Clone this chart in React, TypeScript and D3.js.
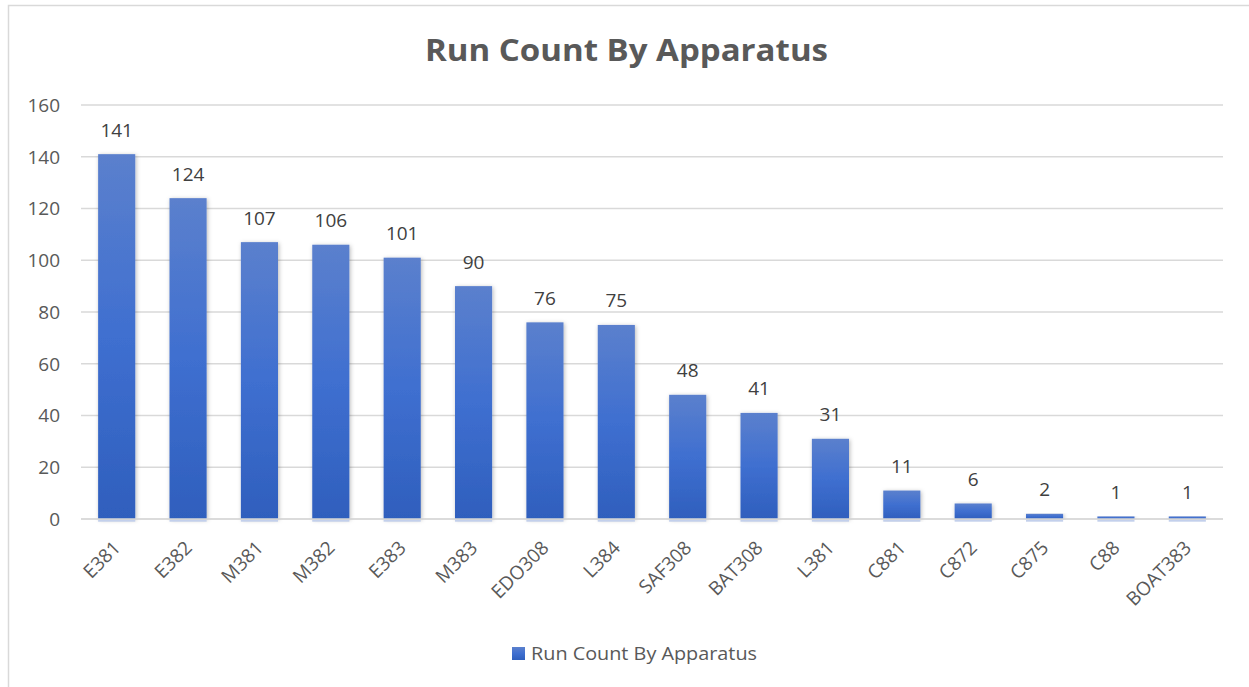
import React from "react";
import * as d3 from "d3";

const categories = ["E381", "E382", "M381", "M382", "E383", "M383", "EDO308", "L384", "SAF308", "BAT308", "L381", "C881", "C872", "C875", "C88", "BOAT383"];
const runCounts = [141, 124, 107, 106, 101, 90, 76, 75, 48, 41, 31, 11, 6, 2, 1, 1];
const yTicks = [0, 20, 40, 60, 80, 100, 120, 140, 160];
const chartTitle = "Run Count By Apparatus";
const seriesName = "Run Count By Apparatus";

const W = 1249;
const H = 687;
const FONT = "'Open Sans', 'Noto Sans', sans-serif";
const TEXT = "#595959";
const LABEL = "#404040";

export default function App() {
  const x = d3.scaleBand<string>().domain(categories).range([81, 1223]).paddingInner(0.48).paddingOuter(0.24);
  const y = d3.scaleLinear().domain([0, 160]).range([519, 105]);

  return (
    <svg width={W} height={H} style={{ position: "absolute", left: 0, top: 0, background: "#fff" }}>
      <defs>
        <linearGradient id="barGrad" x1="0" y1="0" x2="0" y2="1">
          <stop offset="0%" stopColor="#5b80cd" />
          <stop offset="50%" stopColor="#3f6fd0" />
          <stop offset="100%" stopColor="#2f5fbd" />
        </linearGradient>
        <filter id="barShadow" x="-30%" y="-10%" width="160%" height="120%">
          <feDropShadow dx="1" dy="1" stdDeviation="2.2" floodColor="#000" floodOpacity="0.28" />
        </filter>
      </defs>

      {/* chart area frame */}
      <rect x={8.5} y={5.5} width={1300} height={720} fill="none" stroke="#d9d9d9" strokeWidth={1.5} />

      {/* title */}
      <text x={626.5} y={61} textAnchor="middle" fontFamily={FONT} fontWeight={700} fontSize={31} fill={TEXT} textLength={403} lengthAdjust="spacingAndGlyphs">
        {chartTitle}
      </text>

      {/* gridlines and y tick labels */}
      {yTicks.map((t) => (
        <g key={t}>
          <line x1={81} x2={1223} y1={y(t)} y2={y(t)} stroke="#d9d9d9" strokeWidth={1.3} />
          <text x={60} y={y(t)} dy="0.36em" textAnchor="end" fontFamily={FONT} fontSize={19} fill={TEXT}>
            {t}
          </text>
        </g>
      ))}

      {/* bars, each with a faint reflection under the baseline */}
      {categories.map((c, i) => {
        const v = runCounts[i];
        const bx = x(c)!;
        return (
          <g key={c}>
            <rect x={bx} y={y(v)} width={x.bandwidth()} height={y(0) - y(v)} fill="url(#barGrad)" filter="url(#barShadow)" />
            <rect x={bx} y={y(0) + 0.7} width={x.bandwidth()} height={2} fill="#c3d0ec" />
          </g>
        );
      })}

      {/* baseline */}
      <line x1={81} x2={1223} y1={y(0)} y2={y(0)} stroke="#d9d9d9" strokeWidth={1.3} />

      {/* value labels */}
      {categories.map((c, i) => (
        <text key={c} x={x(c)! + x.bandwidth() / 2} y={y(runCounts[i]) - 17.5} textAnchor="middle" fontFamily={FONT} fontSize={19} fill={LABEL}>
          {runCounts[i]}
        </text>
      ))}

      {/* category labels */}
      {categories.map((c) => {
        const cx = x(c)! + x.bandwidth() / 2;
        return (
          <text key={c} transform={`translate(${cx + 5},${549}) rotate(-45)`} textAnchor="end" fontFamily={FONT} fontSize={19} fill={TEXT}>
            {c}
          </text>
        );
      })}

      {/* legend */}
      <rect x={512} y={647} width={13} height={13} fill="url(#barGrad)" />
      <text x={531} y={660} fontFamily={FONT} fontSize={19} fill={TEXT} textLength={226} lengthAdjust="spacingAndGlyphs">
        {seriesName}
      </text>
    </svg>
  );
}
